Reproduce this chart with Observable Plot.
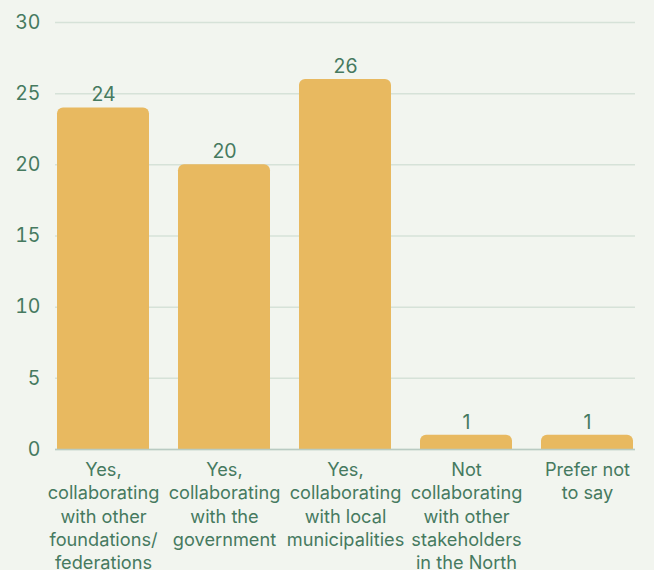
<!DOCTYPE html>
<html>
<head>
<meta charset="utf-8">
<script src="https://cdn.jsdelivr.net/npm/d3@7"></script>
<script src="https://cdn.jsdelivr.net/npm/@observablehq/plot@0.6"></script>
<style>
  html, body { margin: 0; padding: 0; background: #f2f5ef; }
  #chart svg { display: block; }
</style>
</head>
<body>
<div id="chart"></div>
<script>
const categories = [
  "Yes,\ncollaborating\nwith other\nfoundations/\nfederations",
  "Yes,\ncollaborating\nwith the\ngovernment",
  "Yes,\ncollaborating\nwith local\nmunicipalities",
  "Not\ncollaborating\nwith other\nstakeholders\nin the North",
  "Prefer not\nto say"
];
const values = [24, 20, 26, 1, 1];
const yTicks = [0, 5, 10, 15, 20, 25, 30];

const data = categories.map((c, i) => ({category: c, value: values[i]}));
const textColor = "#467a5f";

const chart = Plot.plot({
  width: 654,
  height: 570,
  marginLeft: 55,
  marginRight: 19,
  marginTop: 22,
  marginBottom: 121,
  style: {background: "#f2f5ef", fontFamily: "Inter, 'Noto Sans', sans-serif", color: textColor},
  x: {domain: categories, paddingInner: 0.24, paddingOuter: 0, label: null},
  y: {domain: [0, 30], ticks: yTicks, label: null},
  marks: [
    Plot.gridY(yTicks, {stroke: "#d6e2d8", strokeOpacity: 1, strokeWidth: 1.5}),
    Plot.barY(data, {x: "category", y: "value", fill: "#e8b960", ry1: 6, rx: 0}),
    Plot.ruleY([0], {stroke: "#b9cbc2", strokeWidth: 1.5}),
    Plot.text(data, {x: "category", y: "value", text: d => String(d.value), dy: -13, fontSize: 19.5, fill: textColor}),
    Plot.axisY({ticks: yTicks, tickSize: 0, tickPadding: 15, fontSize: 19.5, fill: textColor}),
    Plot.axisX({tickSize: 0, tickPadding: 10, fontSize: 18.2, fill: textColor, lineHeight: 1.28, textAnchor: "middle"})
  ]
});
document.getElementById("chart").appendChild(chart);
</script>
</body>
</html>
